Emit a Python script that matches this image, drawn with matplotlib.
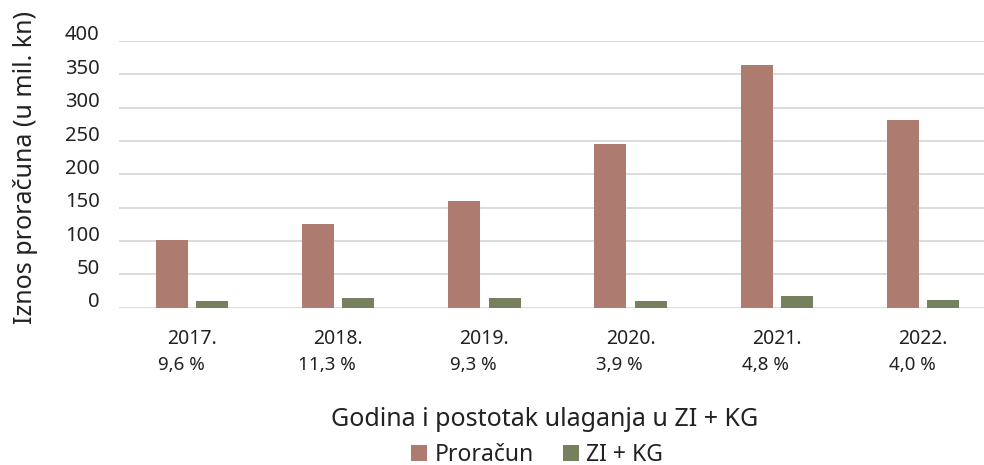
import numpy as np
import matplotlib.pyplot as plt
from matplotlib import transforms

# data
years = ['2017.', '2018.', '2019.', '2020.', '2021.', '2022.']
shares = ['9,6 %', '11,3 %', '9,3 %', '3,9 %', '4,8 %', '4,0 %']
proracun = [102, 126, 160, 246, 364, 282]
zi_kg = [9.8, 14.2, 14.9, 9.6, 17.5, 11.3]

red = '#AD7B6F'
green = '#76805F'

plt.rcParams['font.family'] = ['Noto Sans', 'DejaVu Sans']

fig = plt.figure(figsize=(9.84, 4.65), dpi=100)
# plot area runs a little past the right edge, like the cropped original
ax = fig.add_axes([119 / 984, 0.338, 877 / 984, 0.574])

pos = np.arange(len(years))
width = 0.219
ax.bar(pos - 0.138, proracun, width, color=red, label='Proračun', zorder=3)
ax.bar(pos + 0.138, zi_kg, width, color=green, label='ZI + KG', zorder=3)

ax.set_xlim(-0.5, len(years) - 0.5)
ax.set_ylim(0, 400)
ax.set_yticks(np.arange(0, 401, 50))
ax.yaxis.grid(True, color='#D9D9D9', linewidth=1.3, zorder=0)
ax.set_axisbelow(True)
for s in ax.spines.values():
    s.set_visible(False)
ax.tick_params(axis='y', length=0, pad=14, labelsize=14.5, labelcolor='#222222')
ax.tick_params(axis='x', length=0)
ax.set_xticks([])

# shift the y tick labels up a bit, like the original
offset = transforms.ScaledTranslation(0, 8 / 100, fig.dpi_scale_trans)
for lab in ax.get_yticklabels():
    lab.set_transform(lab.get_transform() + offset)

# year + percentage labels under each group
trans = transforms.blended_transform_factory(ax.transData, ax.transAxes)
for i, (y, s) in enumerate(zip(years, shares)):
    ax.text(i, -0.116, y, transform=trans, ha='center', va='center',
            fontsize=14, color='#222222')
    ax.text(i - 0.075, -0.215, s, transform=trans, ha='center', va='center',
            fontsize=13.5, color='#222222')

fig.text(0.553, 0.097, 'Godina i postotak ulaganja u ZI + KG', ha='center',
         va='center', fontsize=18, color='#222222')
fig.text(0.026, 0.64, 'Iznos proračuna (u mil. kn)', rotation=90, ha='center',
         va='center', fontsize=18, color='#222222')

fig.legend(loc='center', bbox_to_anchor=(0.546, 0.022), ncol=2, frameon=False,
           fontsize=16.5, handlelength=0.7, handleheight=0.7, handletextpad=0.3,
           columnspacing=1.3, labelcolor='#222222')

fig.savefig('out.png', dpi=100)
